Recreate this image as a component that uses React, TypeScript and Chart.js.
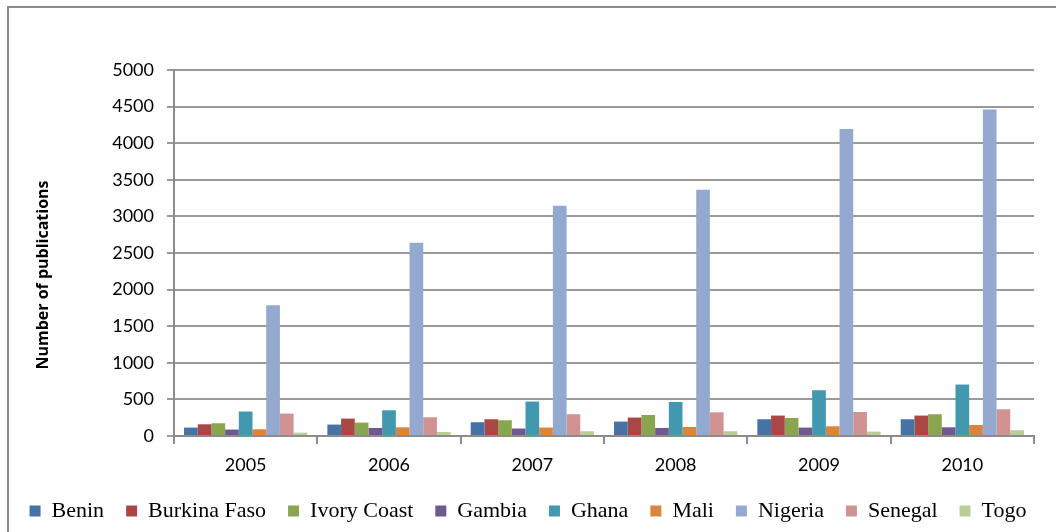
import React, { useEffect, useRef } from "react";
import { Chart, registerables } from "chart.js";

Chart.register(...registerables);

const years = ["2005", "2006", "2007", "2008", "2009", "2010"];
const countries = ["Benin", "Burkina Faso", "Ivory Coast", "Gambia", "Ghana", "Mali", "Nigeria", "Senegal", "Togo"];
const yAxisTitle = "Number of publications";

const benin = [115, 156, 188, 197, 229, 229];
const burkinaFaso = [160, 238, 229, 252, 279, 279];
const ivoryCoast = [174, 183, 215, 287, 246, 297];
const gambia = [88, 110, 102, 110, 115, 119];
const ghana = [334, 351, 470, 465, 625, 703];
const mali = [92, 119, 115, 123, 133, 151];
const nigeria = [1785, 2640, 3145, 3365, 4195, 4462];
const senegal = [306, 256, 297, 324, 328, 365];
const togo = [46, 55, 65, 65, 60, 78];

const seriesValues = [benin, burkinaFaso, ivoryCoast, gambia, ghana, mali, nigeria, senegal, togo];
const colors = ["#4572A7", "#AA4643", "#89A54E", "#71588F", "#4198AF", "#DB843D", "#93A9CF", "#D19392", "#B9CD96"];

const yTitlePlugin = {
  id: "yTitlePlugin",
  afterDraw(chart: any) {
    const ctx = chart.ctx;
    ctx.save();
    ctx.translate(43, 275);
    ctx.rotate(-Math.PI / 2);
    ctx.font = "bold 16px 'Open Sans'";
    ctx.fillStyle = "#000";
    ctx.textAlign = "center";
    ctx.textBaseline = "middle";
    ctx.fillText(yAxisTitle, 0, 0);
    ctx.restore();
  },
};

export default function App() {
  const canvasRef = useRef<HTMLCanvasElement | null>(null);

  useEffect(() => {
    if (!canvasRef.current) return;
    const chart = new Chart(canvasRef.current, {
      type: "bar",
      data: {
        labels: years,
        datasets: countries.map((name, i) => ({
          label: name,
          data: seriesValues[i],
          backgroundColor: colors[i],
          borderWidth: 0,
          yAxisID: "y",
        })),
      },
      plugins: [yTitlePlugin],
      options: {
        animation: false,
        responsive: false,
        maintainAspectRatio: false,
        datasets: { bar: { categoryPercentage: 0.86, barPercentage: 1.0 } },
        layout: { padding: { left: 0, right: 0, top: 70, bottom: 0 } },
        plugins: {
          tooltip: { enabled: false },
          legend: {
            position: "bottom",
            labels: {
              boxWidth: 11,
              boxHeight: 11,
              padding: 22,
              color: "#000",
              font: { family: "'Liberation Serif', serif", size: 22 },
            },
          },
        },
        scales: {
          x: {
            grid: {
              offset: true,
              drawOnChartArea: false,
              drawTicks: true,
              tickLength: 8,
              color: "#8c8c8c",
              lineWidth: 2,
            },
            border: { display: true, color: "#8c8c8c", width: 2 },
            ticks: {
              color: "#000",
              padding: 10,
              font: { family: "Lato", size: 18 },
            },
            afterFit: (scale: any) => {
              scale.height = 42;
            },
          },
          y: {
            position: "left",
            min: 0,
            max: 5000,
            ticks: {
              stepSize: 500,
              color: "#000",
              padding: 13,
              font: { family: "Lato", size: 18 },
              callback: (v: any) => String(v),
            },
            grid: {
              color: "#9a9a9a",
              lineWidth: 2,
              tickLength: 7,
            },
            border: { display: true, color: "#8c8c8c", width: 2 },
            afterFit: (scale: any) => {
              scale.width = 174;
            },
          },
          yRight: {
            type: "linear",
            position: "right",
            display: true,
            grid: { display: false, drawTicks: false },
            ticks: { display: false },
            border: { display: false },
            afterFit: (scale: any) => {
              scale.width = 22;
            },
          },
        },
      },
    });
    return () => chart.destroy();
  }, []);

  return (
    <div style={{ position: "relative", width: 1056, height: 532, overflow: "hidden" }}>
      <style>{`body{margin:0;overflow:hidden;background:#fff}`}</style>
      <div
        style={{
          position: "absolute",
          left: 7,
          top: 6,
          width: 1049,
          height: 526,
          borderLeft: "2px solid #8c8c8c",
          borderTop: "2px solid #8c8c8c",
          boxSizing: "border-box",
        }}
      />
      <canvas
        ref={canvasRef}
        width={1056}
        height={532}
        style={{ position: "absolute", left: 0, top: 0, width: 1056, height: 532 }}
      />
    </div>
  );
}
